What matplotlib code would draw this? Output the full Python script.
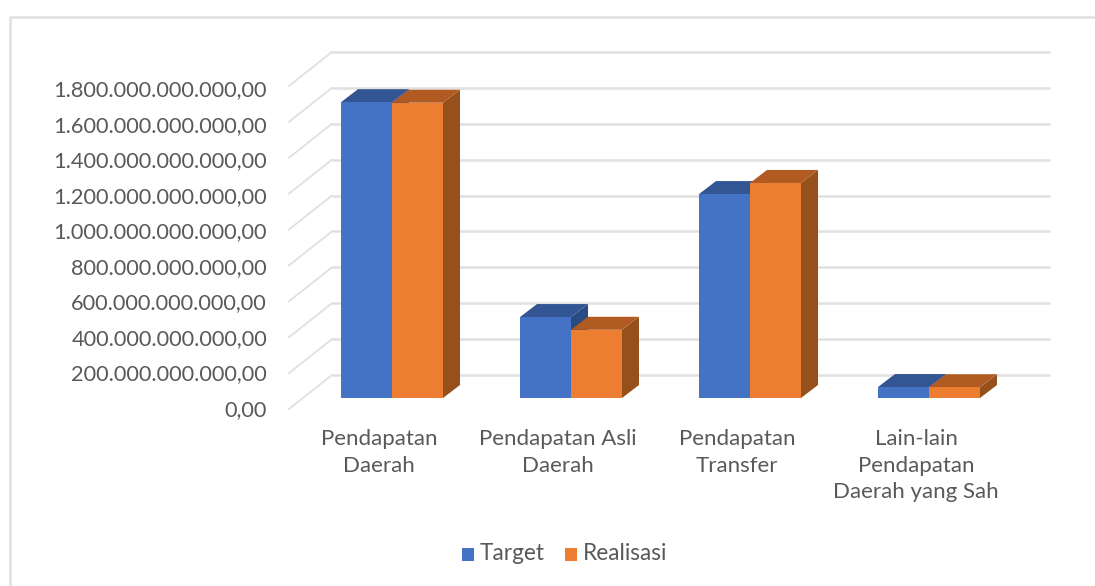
import numpy as np
import matplotlib
matplotlib.use("Agg")
import matplotlib.pyplot as plt
from matplotlib.patches import Polygon, Rectangle

plt.rcParams['font.family'] = ['Lato', 'DejaVu Sans']

categories = ["Pendapatan\nDaerah", "Pendapatan Asli\nDaerah", "Pendapatan\nTransfer",
              "Lain-lain\nPendapatan\nDaerah yang Sah"]
target = [1648e9, 451e9, 1136e9, 61e9]
realisasi = [1645e9, 380e9, 1198e9, 60e9]
y_ticks = [0, 200e9, 400e9, 600e9, 800e9, 1000e9, 1200e9, 1400e9, 1600e9, 1800e9]
y_labels = ["0,00", "200.000.000.000,00", "400.000.000.000,00", "600.000.000.000,00",
            "800.000.000.000,00", "1.000.000.000.000,00", "1.200.000.000.000,00",
            "1.400.000.000.000,00", "1.600.000.000.000,00", "1.800.000.000.000,00"]

W, H = 1095, 586
fig = plt.figure(figsize=(W / 100, H / 100), dpi=100)
ax = fig.add_axes([0, 0, 1, 1])
ax.set_axis_off()

# one x unit = one category = 179 px, 200 billion = 35.9 px, bar baseline at y=398 px
px_x = 1 / 179
px_y = 200e9 / 35.9
ax.set_xlim(-392 * px_x, (W - 392) * px_x)
ax.set_ylim((398 - H) * px_y, 398 * px_y)

BLUE, BLUE_TOP, BLUE_SIDE = "#4472c4", "#335593", "#2a4a82"
ORANGE, ORANGE_TOP, ORANGE_SIDE = "#ed7d31", "#b15b22", "#96501c"
GRID = "#e0e0e0"
bar_w = 51 * px_x
dx, dy = 17 * px_x, 13 * px_y


def bar3d(x0, val, front, top, side):
    ax.add_patch(Polygon([(x0 + bar_w, 0), (x0 + bar_w + dx, dy), (x0 + bar_w + dx, val + dy),
                          (x0 + bar_w, val)], fc=side, ec="none", zorder=3))
    ax.add_patch(Polygon([(x0, val), (x0 + dx, val + dy), (x0 + bar_w + dx, val + dy),
                          (x0 + bar_w, val)], fc=top, ec="none", zorder=3))
    ax.add_patch(Rectangle((x0, 0), bar_w, val, fc=front, ec="none", zorder=3))


# back wall and side wall gridlines
wall_dy = 23 * px_y
for v in y_ticks:
    ax.plot([(332 - 392) * px_x, (1050 - 392) * px_x], [v + wall_dy, v + wall_dy],
            color=GRID, lw=1.8, zorder=1, solid_capstyle="butt")
    ax.plot([(289 - 392) * px_x, (332 - 392) * px_x], [v - 11 * px_y, v + wall_dy],
            color=GRID, lw=1.3, zorder=1)

for i in range(len(categories)):
    bar3d(i - bar_w, target[i], BLUE, BLUE_TOP, BLUE_SIDE)
    bar3d(i, realisasi[i], ORANGE, ORANGE_TOP, ORANGE_SIDE)

text_c = "#595959"
# the axis labels sit a bit tighter than the gridlines in the picture
for v, lab in zip(y_ticks, y_labels):
    ax.text((267 - 392) * px_x, v * 35.55 / 35.9 - 12 * px_y, lab, ha="right", va="center",
            fontsize=15.7, color=text_c)
for i, lab in enumerate(categories):
    ax.text(i - 13 * px_x, -31 * px_y, lab, ha="center", va="top", fontsize=16, color=text_c,
            linespacing=1.42)

# legend
ax.add_patch(Rectangle(((462 - 392) * px_x, (398 - 561) * px_y), 12 * px_x, 13 * px_y, fc=BLUE, ec="none"))
ax.add_patch(Rectangle(((565 - 392) * px_x, (398 - 561) * px_y), 12 * px_x, 13 * px_y, fc=ORANGE, ec="none"))
ax.text((480 - 392) * px_x, (398 - 554) * px_y, "Target", va="center", fontsize=16.3, color=text_c)
ax.text((583 - 392) * px_x, (398 - 554) * px_y, "Realisasi", va="center", fontsize=16.3, color=text_c)

# chart frame
ax.plot([(W - 392) * px_x, (10 - 392) * px_x, (10 - 392) * px_x],
        [(398 - 17) * px_y, (398 - 17) * px_y, (398 - H) * px_y], color=GRID, lw=1.8)

fig.savefig("out.png", dpi=100)
